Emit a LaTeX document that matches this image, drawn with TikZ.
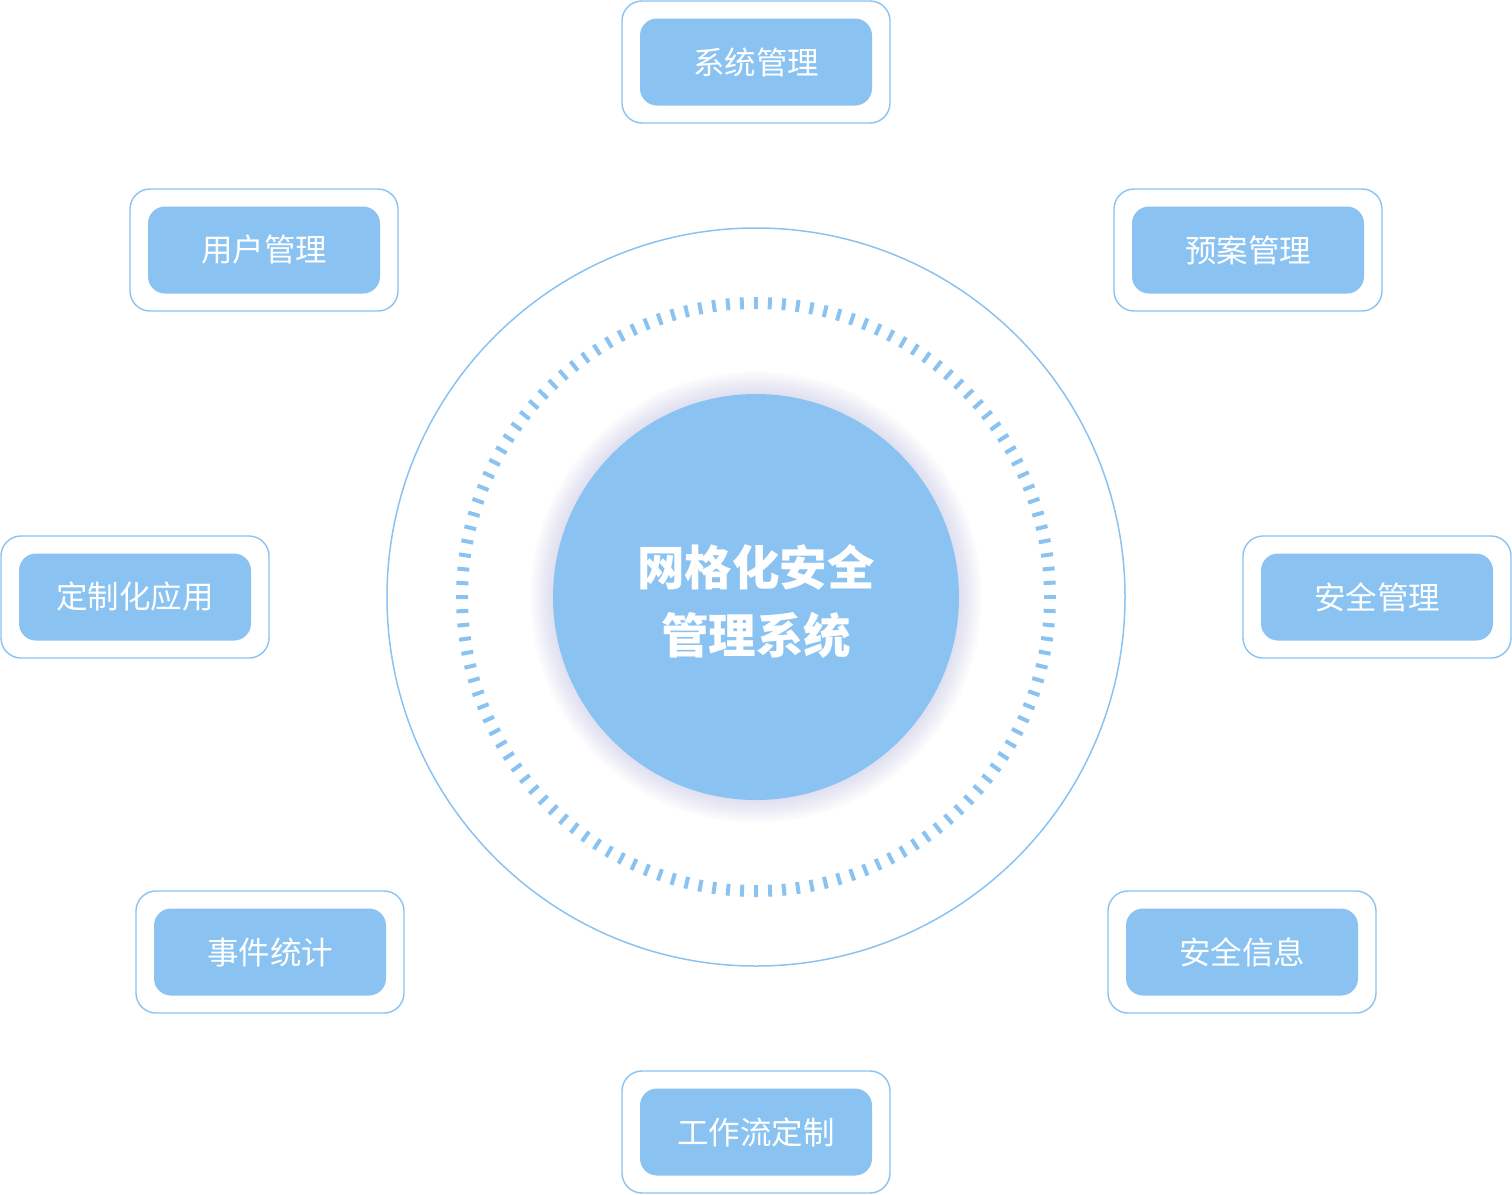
\documentclass[tikz,border=0pt]{standalone}
\usepackage{fontspec}
\usetikzlibrary{calc}
\newfontfamily\cjk{Noto Sans CJK SC}
\definecolor{bl}{HTML}{8AC3F1}
\definecolor{shd}{HTML}{9A9CD0}
\tikzset{
  outerbox/.style={draw=bl, line width=1.4pt, rounded corners=20pt, minimum width=268pt, minimum height=122pt, fill=white},
  innerbox/.style={fill=bl, rounded corners=17pt, minimum width=232pt, minimum height=87pt, text=white, font=\cjk\fontsize{31.5}{36}\selectfont},
}
\begin{document}
\begin{tikzpicture}[x=1pt,y=-1pt]
\useasboundingbox (0,0) rectangle (1512,1194);
\coordinate (c) at (756,597);
% outer ring
\draw[bl, line width=1.5pt] (c) circle[radius=369];
% tick ring
\foreach \a in {0,2.727,...,359.9} {
  \draw[bl, line width=4pt] ($(c)+(\a:288)$) -- ($(c)+(\a:300)$);
}
% shadow
\foreach \r in {226,224,...,202} {
  \fill[shd, opacity=0.03] (c) circle[radius=\r];
}
\fill[bl] (c) circle[radius=203];
\node[text=white, font=\cjk\bfseries\fontsize{47.5}{68}\selectfont, align=center] (core) at (756,601) {网格化安全\\管理系统};
% boxes
\foreach \n/\x/\y/\t in {sys/756/62/系统管理, usr/264/250/用户管理, yua/1248/250/预案管理, dzh/135/597/定制化应用, aqg/1377/597/安全管理, sjt/270/952/事件统计, aqx/1242/952/安全信息, gzl/756/1132/工作流定制} {
  \node[outerbox] (\n o) at (\x,\y) {};
  \node[innerbox] (\n) at (\x,\y) {\t};
}
\end{tikzpicture}
\end{document}
